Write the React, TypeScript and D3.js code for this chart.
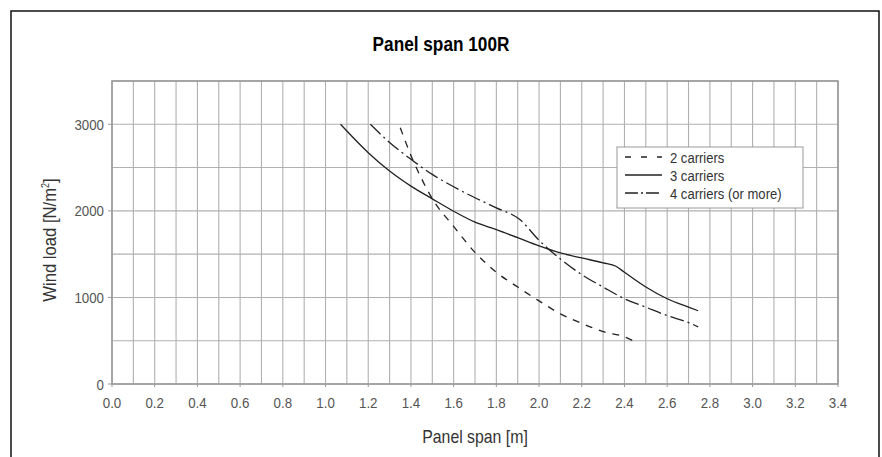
import React from "react";
import * as d3 from "d3";

const xTicks = [0, 0.2, 0.4, 0.6, 0.8, 1.0, 1.2, 1.4, 1.6, 1.8, 2.0, 2.2, 2.4, 2.6, 2.8, 3.0, 3.2, 3.4];
const yTicks = [0, 1000, 2000, 3000];

const spanTwo = [1.35, 1.4, 1.45, 1.5, 1.6, 1.7, 1.8, 1.9, 2.0, 2.1, 2.2, 2.3, 2.4, 2.44];
const loadTwo = [2960, 2640, 2370, 2140, 1820, 1520, 1290, 1120, 960, 810, 700, 605, 545, 500];

const spanThree = [1.07, 1.2, 1.3, 1.4, 1.5, 1.6, 1.7, 1.8, 1.9, 2.0, 2.1, 2.2, 2.3, 2.36, 2.4, 2.5, 2.6, 2.7, 2.745];
const loadThree = [3000, 2672, 2460, 2286, 2139, 1996, 1870, 1784, 1690, 1595, 1514, 1456, 1400, 1360, 1290, 1120, 985, 888, 846];

const spanFour = [1.21, 1.3, 1.4, 1.5, 1.6, 1.7, 1.8, 1.91, 2.0, 2.1, 2.2, 2.3, 2.4, 2.5, 2.6, 2.7, 2.745];
const loadFour = [3000, 2790, 2595, 2421, 2278, 2151, 2035, 1900, 1660, 1444, 1263, 1120, 985, 888, 790, 710, 660];

const legendLabels = ["2 carriers", "3 carriers", "4 carriers (or more)"];
const dashes = ["7,7", "none", "14,4,2,4"];

const FONT = "'Liberation Sans', Arial, Helvetica, sans-serif";

function CText(props: { x: number; y: number; sx: number; size: number; anchor?: string; fill?: string; weight?: string; rotate?: number; children: React.ReactNode }) {
  const { x, y, sx, size, anchor = "start", fill = "#333", weight = "normal", rotate = 0, children } = props;
  return (
    <text transform={`translate(${x},${y}) rotate(${rotate}) scale(${sx},1)`} textAnchor={anchor as any}
      fontSize={size} fontWeight={weight} fill={fill}>{children}</text>
  );
}

export default function App() {
  const W = 882, H = 457;
  const left = 112, right = 838, top = 81, bottom = 384;
  const x = d3.scaleLinear().domain([0, 3.4]).range([left, right]);
  const y = d3.scaleLinear().domain([0, 3500]).range([bottom, top]);

  const xGrid = d3.range(0, 35).map((i) => i / 10);
  const yGrid = d3.range(0, 3501, 500);

  const line = d3.line<[number, number]>()
    .x((d) => x(d[0]))
    .y((d) => y(d[1]))
    .curve(d3.curveMonotoneX);

  const series = [
    spanTwo.map((s, i) => [s, loadTwo[i]] as [number, number]),
    spanThree.map((s, i) => [s, loadThree[i]] as [number, number]),
    spanFour.map((s, i) => [s, loadFour[i]] as [number, number]),
  ];

  const lgX = 617, lgY = 147, lgW = 186, lgH = 61;

  return (
    <svg width={W} height={H} style={{ position: "absolute", left: 0, top: 0, fontFamily: FONT }}>
      <rect x={0} y={0} width={W} height={H} fill="#fff" />
      <rect x={11} y={11} width={868} height={470} fill="none" stroke="#111" strokeWidth={1.5} />
      <CText x={441} y={51} sx={0.84} size={20.5} anchor="middle" weight="bold" fill="#000">Panel span 100R</CText>

      {xGrid.map((v) => (
        <line key={"xg" + v} x1={x(v)} x2={x(v)} y1={top} y2={bottom} stroke="#b0b0b0" strokeWidth={1.1} />
      ))}
      {yGrid.map((v) => (
        <line key={"yg" + v} x1={left} x2={right} y1={y(v)} y2={y(v)} stroke="#b0b0b0" strokeWidth={1.1} />
      ))}
      <rect x={left} y={top} width={right - left} height={bottom - top} fill="none" stroke="#999" strokeWidth={1.6} />

      {yTicks.map((v) => (
        <g key={"yt" + v}>
          <line x1={left - 4} x2={left} y1={y(v)} y2={y(v)} stroke="#999" />
          <CText x={104} y={y(v) + 5.5} sx={0.86} size={15.5} anchor="end" fill="#555">{v}</CText>
        </g>
      ))}
      {xTicks.map((v) => (
        <g key={"xt" + v}>
          <line x1={x(v)} x2={x(v)} y1={bottom} y2={bottom + 3} stroke="#999" />
          <CText x={x(v)} y={408} sx={0.86} size={15.5} anchor="middle" fill="#555">{v.toFixed(1)}</CText>
        </g>
      ))}

      <CText x={475} y={443} sx={0.88} size={18} anchor="middle" fill="#333">Panel span [m]</CText>
      <CText x={56} y={240} sx={0.9} size={18.5} anchor="middle" fill="#333" rotate={-90}>
        Wind load [N/m<tspan dy={-7} fontSize={10}>2</tspan><tspan dy={7}>]</tspan>
      </CText>

      {series.map((pts, i) => (
        <path key={"s" + i} d={line(pts) || ""} fill="none" stroke="#222" strokeWidth={1.3}
          strokeDasharray={dashes[i] === "none" ? undefined : dashes[i]} />
      ))}

      <rect x={lgX} y={lgY} width={lgW} height={lgH} fill="#fff" stroke="#999" strokeWidth={1} />
      {legendLabels.map((lab, i) => (
        <g key={"lg" + i}>
          <line x1={625} x2={662} y1={157 + i * 18} y2={157 + i * 18} stroke="#222" strokeWidth={1.3}
            strokeDasharray={dashes[i] === "none" ? undefined : (i === 0 ? "6,10" : "13,3,2,3")} />
          <CText x={670} y={162.5 + i * 18} sx={0.9} size={14.5} fill="#333">{lab}</CText>
        </g>
      ))}
    </svg>
  );
}
